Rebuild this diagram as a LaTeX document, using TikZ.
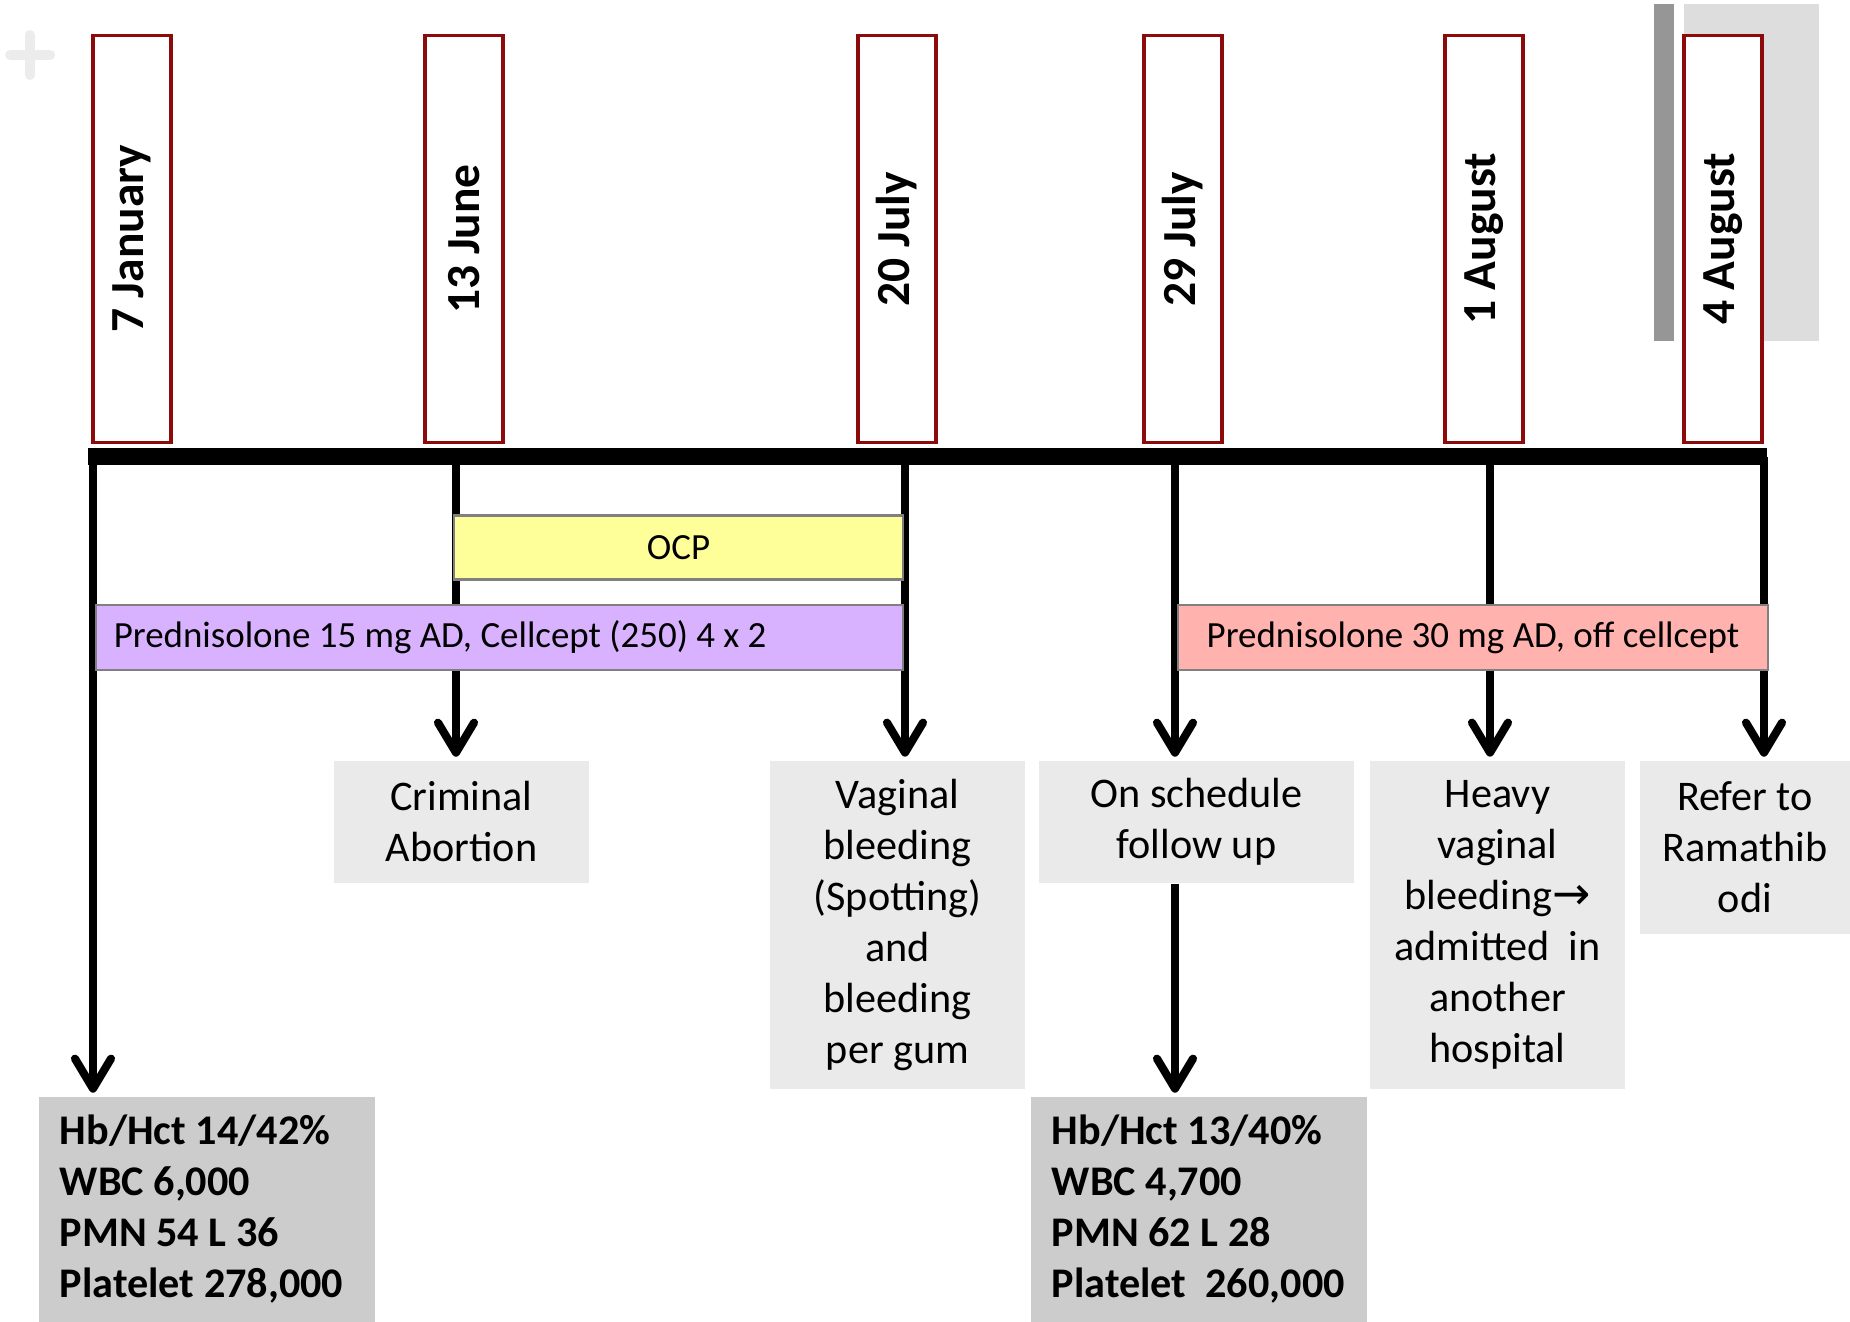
\documentclass[tikz,border=0pt]{standalone}
\usepackage{fontspec}
\setmainfont{Carlito}
\newfontfamily\symfont{DejaVu Sans}
\usetikzlibrary{arrows.meta}

\definecolor{datered}{RGB}{140,10,10}
\definecolor{ocpyellow}{RGB}{255,255,153}
\definecolor{predlow}{RGB}{217,178,255}
\definecolor{predhigh}{RGB}{255,178,174}
\definecolor{eventgray}{RGB}{234,234,234}
\definecolor{labgray}{RGB}{204,204,204}
\definecolor{bardark}{RGB}{150,150,150}
\definecolor{barlight}{RGB}{221,221,221}
\definecolor{plusgray}{RGB}{236,236,236}

\tikzset{
  datebox/.style={draw=datered, fill=white, line width=0.9pt, rotate=90,
    minimum width=4.06cm, minimum height=0.78cm, inner sep=0pt,
    font=\bfseries\fontsize{13.5}{16}\selectfont},
  drugbar/.style={draw=gray, line width=0.7pt, minimum height=0.64cm, inner sep=0pt,
    font=\fontsize{10.5}{12}\selectfont},
  eventbox/.style={fill=eventgray, minimum width=2.55cm, inner sep=0pt, align=center,
    font=\fontsize{12}{14.5}\selectfont},
  labbox/.style={fill=labgray, text width=2.94cm, inner xsep=0.21cm, inner ysep=0pt,
    minimum height=2.25cm, align=flush left, font=\bfseries\fontsize{12}{14.5}\selectfont},
  timearrow/.style={line width=2.3pt, -{Straight Barb[length=3mm,width=3.6mm,round]},
    shorten >=1pt}
}

\begin{document}
\begin{tikzpicture}[x=0.01cm, y=-0.01cm]
    \useasboundingbox (0,0) rectangle (1850,1322);
    % corner mark
    \draw[plusgray, line width=0.1cm, line cap=round] (10,55) -- (50,55) (30,35) -- (30,75);
    % shading behind the last date
    \fill[barlight] (1684,4) rectangle (1819,341);
    \fill[bardark] (1654,4) rectangle (1674,341);

    % dates
    \node[datebox] (jan7) at (132,239) {7 January};
    \node[datebox] (jun13) at (464,239) {13 June};
    \node[datebox] (jul20) at (897,239) {20 July};
    \node[datebox] (jul29) at (1183,239) {29 July};
    \node[datebox] (aug1) at (1484,239) {1 August};
    \node[datebox] (aug4) at (1723,239) {4 August};

    % events
    \node[eventbox, minimum height=1.22cm] (abort) at (461.5,822) {Criminal\\Abortion};
    \node[eventbox, minimum height=3.28cm] (spot) at (897.5,925)
        {Vaginal\\bleeding\\(Spotting)\\and\\bleeding\\per gum};
    \node[eventbox, minimum width=3.15cm, minimum height=1.22cm] (fu) at (1196.5,822)
        {On schedule\\follow up};
    \node[eventbox, minimum height=3.28cm] (heavy) at (1497.5,925)
        {Heavy\\vaginal\\bleeding{\symfont\fontsize{13}{14.5}\selectfont →}\\admitted\ \ in\\another\\hospital};
    \node[eventbox, minimum width=2.10cm, minimum height=1.73cm] (refer) at (1745,847.5)
        {Refer to\\Ramathib\\odi};

    % lab results
    \node[labbox] (lab1) at (207,1209.5) {Hb/Hct 14/42\%\\WBC 6,000\\PMN 54 L 36\\Platelet 278,000};
    \node[labbox] (lab2) at (1199,1209.5) {Hb/Hct 13/40\%\\WBC 4,700\\PMN 62 L 28\\Platelet\ \ 260,000};

    % time line
    \foreach \n/\x in {t1/93, t2/456, t3/905, t4/1175, t5/1490, t6/1764}
        \coordinate (\n) at (\x,457);
    \draw[timearrow] (t1) -- (t1 |- lab1.north);
    \draw[timearrow] (t2) -- (t2 |- abort.north);
    \draw[timearrow] (t3) -- (t3 |- spot.north);
    \draw[timearrow] (t4) -- (t4 |- fu.north);
    \draw[timearrow] (t5) -- (t5 |- heavy.north);
    \draw[timearrow] (t6) -- (t6 |- refer.north);
    \draw[timearrow] (fu.south -| t4) -- (t4 |- lab2.north);
    \draw[line width=0.17cm] (88,457) -- (1767,457);

    % treatment bars
    \node[drugbar, fill=ocpyellow, minimum width=4.49cm] (ocp) at (678.5,547.5) {OCP};
    \node[drugbar, fill=predlow, text width=7.71cm, inner xsep=0.18cm, align=flush left,
        minimum height=0.65cm] (pred15) at (499.5,637.5)
        {Prednisolone 15 mg AD, Cellcept (250) 4 x 2};
    \node[drugbar, fill=predhigh, minimum width=5.90cm, minimum height=0.65cm] (pred30)
        at (1473,637.5) {Prednisolone 30 mg AD, off cellcept};
\end{tikzpicture}
\end{document}
